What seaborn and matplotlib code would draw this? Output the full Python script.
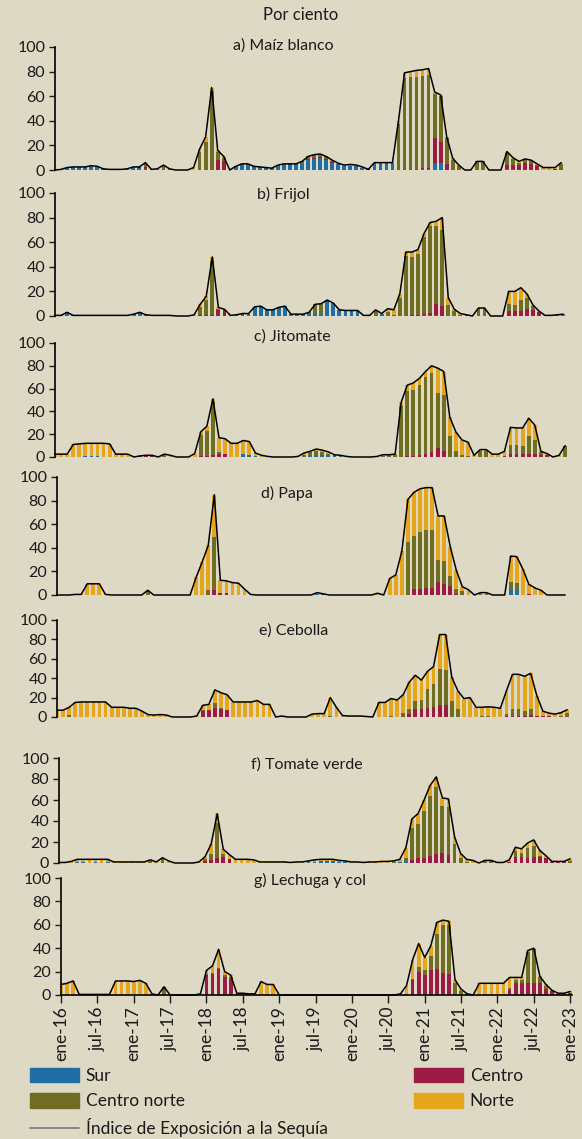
import numpy as np
import seaborn as sns
import matplotlib.pyplot as plt
from matplotlib.patches import Patch
from matplotlib.lines import Line2D

# Monthly values, ene-16 ... ene-23 (85 months), one row per year

# a) Maiz blanco
maiz_sur = [0, 0.5, 2, 2.5, 2.5, 2.5, 3.5, 3, 1, 0.5, 0.5, 0.5,
            1, 2.5, 2, 1, 0.5, 0, 0, 1, 0, 0, 0, 0,
            0, 0, 0, 0, 0, 0, 3, 5, 5, 3, 2.5, 2,
            1.5, 4, 5, 5, 4.5, 5, 8, 9, 9.5, 8, 6, 4.5,
            3.5, 3, 3, 2, 0.5, 6, 6, 6, 6, 0, 1, 1,
            1, 1, 1, 6, 6, 0, 0, 0, 0, 0, 0, 0,
            0, 0, 0, 1, 1, 0, 0, 0, 0, 0, 0, 0,
            1]
maiz_centro = [0, 0, 0, 0, 0, 0, 0, 0, 0, 0, 0, 0,
               0, 0, 0.5, 1.5, 0, 0, 0, 0, 0, 0, 0, 0,
               0, 0, 0, 8, 7, 0, 0, 0, 0, 0, 0, 0,
               0, 0, 0, 0, 0, 0, 1, 1, 1, 1, 0.5, 0,
               0, 0, 0, 0, 0, 0, 0, 0, 0, 0, 0, 0,
               0, 0.5, 1, 20, 17, 5, 0, 0, 0, 0, 0, 0,
               0, 0, 0, 3, 3, 4, 6, 5, 3, 0, 0, 1,
               0]
maiz_cnorte = [0, 0, 0, 0, 0, 0, 0, 0, 0, 0, 0, 0,
               0, 0, 0, 3, 0, 1, 4, 0, 0, 0, 0, 0,
               15, 23, 64, 7, 3, 0, 0, 0, 0, 0, 0, 0,
               0, 0, 0, 0, 0.5, 2, 2, 2, 2, 1.5, 1, 0,
               0, 0, 0, 0, 0, 0, 0, 0, 0, 37, 74, 75,
               75, 75, 75, 36, 37, 21, 8, 3.5, 0, 0, 7, 7,
               0, 0, 0, 10, 5, 2, 2, 2, 1, 0, 0, 0,
               4]
maiz_norte = [0, 0, 0, 0, 0, 0, 0, 0, 0, 0, 0, 0,
              0, 0, 0, 0.5, 0, 0, 0, 0, 0, 0, 0, 2,
              2, 4, 3, 1, 1, 0, 0, 0, 0, 0, 0, 0,
              0, 0, 0, 0, 0, 0, 0, 0.5, 0.5, 0.5, 0.5, 1,
              0.5, 1.5, 1, 0.5, 0, 0, 0, 0, 0, 3, 4, 4,
              5, 5, 5.5, 1.5, 1, 1, 1.5, 0.5, 0, 0, 0, 0,
              0, 0, 0, 1, 1, 1, 1, 1, 1, 2, 2, 1,
              1]

# b) Frijol
frijol_sur = [0.5, 0.5, 3, 0.5, 0.5, 0.5, 0.5, 0.5, 0.5, 0.5, 0.5, 0.5,
              0.5, 1.5, 3, 1, 0.5, 0.5, 0.5, 0.5, 0, 0, 0, 0,
              0, 0, 0, 0, 0, 0.5, 1, 2, 2, 7.5, 8, 5,
              5, 7, 8, 1.5, 1.5, 1.5, 1.5, 1.5, 2, 11, 10, 5,
              4.5, 4.5, 4.5, 0.5, 0.5, 1, 2, 0, 1, 0, 0.5, 0,
              0, 0.5, 0.5, 1, 0, 0, 0, 0, 0, 0, 0, 0,
              0, 0, 0, 0, 0, 0, 0, 0, 0, 0, 0, 0.5,
              1.5]
frijol_centro = [0, 0, 0, 0, 0, 0, 0, 0, 0, 0, 0, 0,
                 0, 0, 0, 0, 0, 0, 0, 0, 0, 0, 0, 0,
                 0.5, 1, 1, 5, 5, 0, 0, 0, 0, 0, 0, 0,
                 0, 0, 0, 0, 0, 0, 0, 0, 0, 1, 0, 0,
                 0, 0, 0, 0, 0, 0, 0, 0, 0, 0, 0.5, 0.5,
                 0.5, 1, 2, 9, 8, 0, 0, 0, 0, 0, 0, 0,
                 0, 0, 0, 4, 4, 4, 6, 5, 3, 0, 0, 0,
                 0]
frijol_cnorte = [0, 0, 0, 0, 0, 0, 0, 0, 0, 0, 0, 0,
                 0, 0, 0, 0, 0, 0, 0, 0, 0, 0, 0, 0,
                 7, 12, 44, 1, 0, 0, 0, 0, 0, 0, 0, 0,
                 0, 0, 0, 0, 0, 0, 1.5, 8, 8, 1, 0.5, 0,
                 0, 0, 0, 0, 0, 4, 0, 3, 0, 15, 48, 47.5,
                 49.5, 62.5, 70.5, 63.5, 62, 9, 4, 1, 0.5, 0, 6.5, 6.5,
                 0, 0, 0, 6, 5, 9, 9, 3, 0, 0, 0, 0,
                 0]
frijol_norte = [0, 0, 0, 0, 0, 0, 0, 0, 0, 0, 0, 0,
                0, 0, 0, 0, 0, 0, 0, 0, 0, 0, 0, 1,
                2, 3, 3, 1, 0.5, 0, 0, 0, 0, 0, 0, 0,
                0, 0, 0, 0, 0, 0, 0, 0, 0, 0, 0, 0,
                0, 0, 0, 0, 0, 0, 0, 3, 4, 3, 3, 4,
                4, 3, 3, 3.5, 10, 6, 1.5, 1, 0.5, 0, 0, 0,
                0, 0, 0, 10, 11, 10, 3, 1, 1, 0.5, 0.5, 0.5,
                0]

# c) Jitomate
jitomate_sur = [0, 0, 0, 0, 0, 0.5, 0.5, 0.5, 0, 0, 0, 0,
                0, 0, 0, 0, 0, 0, 0, 0, 0, 0, 0, 0,
                0, 0, 0, 0, 0, 0, 0, 2.5, 2, 1, 0, 0,
                0, 0, 0, 0, 0, 0, 1, 2, 1.5, 2, 1.5, 1,
                0.5, 0, 0, 0, 0, 0, 0, 0, 0, 0, 0, 0,
                0, 0, 0, 0, 0, 0, 0, 0, 0, 0, 0, 0,
                0, 0, 0, 0, 0, 0, 0, 0, 0, 0, 0, 0,
                0]
jitomate_centro = [0, 0, 0, 0, 0, 0, 0, 0, 0, 0, 0, 0,
                   0, 0, 0.5, 0.5, 0.5, 0, 0, 0, 0, 0, 0, 0,
                   1, 1, 2, 3, 3, 0, 0, 0, 0, 0, 0, 0,
                   0, 0, 0, 0, 0, 0, 0, 0, 0, 0, 0, 0,
                   0, 0, 0, 0, 0, 0, 0, 0, 0, 0, 0.5, 1,
                   1.5, 3, 4, 8, 5, 0, 0, 0, 0, 0, 0, 0,
                   0, 0, 1, 2.5, 2.5, 2.5, 2.5, 2.5, 2, 1.5, 0, 0,
                   0]
jitomate_cnorte = [0, 0, 0, 0, 0, 0, 0, 0, 0, 0, 0, 0,
                   0, 0, 0, 0, 0, 0, 1.5, 0, 0, 0, 0, 0,
                   18, 22, 46, 1, 0, 0, 0, 0, 0, 0, 0, 0,
                   0, 0, 0, 0, 0, 2, 3, 3, 2.5, 1, 0, 0,
                   0, 0, 0, 0, 0, 0, 1, 1.5, 2, 45, 57, 58,
                   62, 67, 70, 48, 49, 18, 5, 2, 1, 0, 5, 5,
                   0, 0, 0, 8, 8, 7, 16, 12, 2, 0, 0, 0,
                   10]
jitomate_norte = [2.5, 2.5, 2.5, 11, 11.5, 11.5, 11.5, 11.5, 12, 11.5, 2.5, 2.5,
                  2.5, 0, 0.5, 1, 1, 0, 1, 1.5, 0, 0, 0, 3,
                  3, 4, 3, 13, 13, 12, 12, 12, 11.5, 2.5, 1.5, 0.5,
                  0, 0, 0, 0, 0.5, 1.5, 1, 2, 2, 1.5, 0.5, 0.5,
                  0, 0, 0, 0, 0, 0.5, 1, 0.5, 0.5, 3, 5.5, 6,
                  5.5, 5, 6, 22, 21, 17, 17, 13, 12, 1.5, 1.5, 1.5,
                  2.5, 2.5, 4, 15.5, 15, 16, 15.5, 13.5, 1, 1.5, 0, 1.5,
                  0]

# d) Papa
papa_sur = [0, 0, 0, 0, 0, 0, 0, 0, 0, 0, 0, 0,
            0, 0, 0, 0, 0, 0, 0, 0, 0, 0, 0, 0,
            0, 0, 0, 0, 0, 0, 0, 0, 0, 0, 0, 0,
            0, 0, 0, 0, 0, 0, 0, 1, 0.5, 0, 0, 0,
            0, 0, 0, 0, 0, 0, 0, 0, 0, 0, 0, 0,
            0, 0, 0, 0, 0, 0, 0, 0, 0, 0, 0, 0,
            0, 0, 0, 5, 4, 0, 0, 0, 0, 0, 0, 0,
            0]
papa_centro = [0, 0, 0, 0, 0, 0, 0, 0, 0, 0, 0, 0,
               0, 0, 0, 0, 0, 0, 0, 0, 0, 0, 0, 0,
               0, 0, 4, 1.5, 1.5, 0, 0, 0, 0, 0, 0, 0,
               0, 0, 0, 0, 0, 0, 0, 0, 0, 0, 0, 0,
               0, 0, 0, 0, 0, 0, 0, 0, 0, 0, 0, 5,
               5, 6, 6, 11, 9, 8, 1, 0, 0, 0, 0, 0,
               0, 0, 0, 0, 0, 0, 1, 0, 0, 0, 0, 0,
               0]
papa_cnorte = [0, 0, 0, 0, 0, 0, 0, 0, 0, 0, 0, 0,
               0, 0, 0, 3, 0, 0, 0, 0, 0, 0, 0, 0,
               0, 4, 45, 0, 0, 0, 0, 0, 0, 0, 0, 0,
               0, 0, 0, 0, 0, 0, 0, 0, 0, 0, 0, 0,
               0, 0, 0, 0, 0, 0, 0, 0, 0, 0, 45, 45,
               48, 49, 49, 19, 20, 8, 4, 3, 0, 0, 1, 1,
               0, 0, 0, 6, 6, 0, 0, 0, 0, 0, 0, 0,
               0]
papa_norte = [0, 0, 0, 0.5, 0.5, 9.5, 9.5, 9.5, 0.5, 0, 0, 0,
              0, 0, 0, 1, 0, 0, 0, 0, 0, 0, 0, 15,
              28, 38, 36, 11, 10.5, 10.5, 10, 5, 0.5, 0, 0, 0,
              0, 0, 0, 0, 0, 0, 0, 1, 0.5, 0, 0, 0,
              0, 0, 0, 0, 0, 1.5, 0, 14, 17, 37, 36, 37,
              37, 36, 36, 37, 38, 25, 16, 4, 4.5, 0, 1, 1,
              0, 0, 0, 22, 22.5, 22, 8, 6, 4, 0, 0, 0,
              0]

# e) Cebolla
cebolla_sur = [0, 0, 0, 0, 0, 0, 0, 0, 0, 0, 0, 0,
               0, 0, 0, 0, 0, 0, 0, 0, 0, 0, 0, 0,
               0, 0, 0, 0, 0, 0, 0, 0, 0, 0, 0, 0,
               0, 0, 0, 0, 0, 0, 0, 0, 0, 0, 0, 0,
               0, 0, 0, 0, 0, 0, 0, 0, 0, 0, 0, 0,
               0, 0, 0, 0, 0, 0, 0, 0, 0, 0, 0, 0,
               0, 0, 0, 0, 0, 0, 0, 0, 0, 0, 0, 0,
               0]
cebolla_centro = [0, 0, 0, 0, 0, 0, 0, 0, 0, 0, 0, 0,
                  0, 0, 0, 0, 0, 0, 0, 0, 0, 0, 0, 0,
                  6, 7, 9, 8, 7, 0, 0, 0, 0, 0, 0, 0,
                  0, 0, 0, 0, 0, 0, 0, 0, 0, 0, 0, 0,
                  0, 0, 0, 0, 0, 0, 0, 0, 0, 0, 3, 8,
                  8, 9, 10, 12, 12, 0, 0, 0, 0, 0, 0, 0,
                  0, 0, 1, 1, 1, 1, 2, 1, 1, 1, 0, 0,
                  0]
cebolla_cnorte = [0, 0, 2, 0, 0, 0, 0, 0, 0, 0, 0, 0,
                  0, 0, 0, 0, 0, 0, 0, 0, 0, 0, 0, 0,
                  1, 0, 5, 1, 0, 0, 0, 0, 0, 0, 0, 0,
                  0, 0, 0, 0, 0, 0, 0, 0, 0.5, 1, 0, 0,
                  0, 0, 0, 0, 0, 0, 0, 1, 0, 4, 5, 8,
                  10, 20, 24, 37, 36, 16, 8, 0, 0, 0, 1, 1,
                  0, 0, 2, 7, 7, 5, 6, 0, 0, 0, 0, 1,
                  4]
cebolla_norte = [7, 7, 8, 15, 15.5, 15.5, 15.5, 15.5, 15.5, 10, 10, 10,
                 9, 9, 6, 2.5, 2, 2.5, 2, 0, 0, 0, 0, 1,
                 5, 6, 14, 16, 16, 15.5, 15.5, 15.5, 15.5, 17, 13, 13,
                 0, 1, 0, 0, 0, 0, 3, 3.5, 3, 19, 10, 1.5,
                 1, 1, 1, 0.5, 0, 15, 15, 18, 17.5, 19, 28, 27,
                 20, 18, 18, 36, 37, 25, 19, 19, 20, 10, 9, 9.5,
                 10, 9, 24, 36, 36, 36, 37, 21, 5, 3, 3, 3.5,
                 3.5]

# f) Tomate verde
tomate_sur = [0, 0, 0, 0.5, 0.5, 0, 0.5, 0, 0.5, 0, 0, 0,
              0, 0, 0, 0, 0, 0, 0, 0, 0, 0, 0, 0,
              0, 0, 0, 0, 0, 0, 0, 0, 0, 0, 0, 0,
              0, 0, 0, 0, 0, 0.5, 1, 1.5, 1.5, 1.5, 1, 1,
              0, 0, 0, 0, 0, 0, 0, 0, 0.5, 0.5, 0, 0,
              0, 0, 0, 0, 0, 0, 0, 0, 0, 0, 0, 0,
              0, 0, 0, 0, 0, 0, 0, 0, 0, 0, 0, 0,
              0]
tomate_centro = [0, 0, 0, 0, 0, 0, 0, 0, 0, 0, 0, 0,
                 0, 0, 0, 0, 0, 0, 0, 0, 0, 0, 0, 0,
                 2, 3, 5, 6, 4, 0, 0, 0, 0, 0, 0, 0,
                 0, 0, 0, 0, 0, 0, 0, 0, 0, 0, 0, 0,
                 0, 0, 0, 0, 0, 0, 0, 0, 0, 0, 3, 5,
                 5, 7, 9, 10, 8, 0, 0, 0, 0, 0, 0, 0,
                 0, 0, 1, 6, 6, 5, 6, 6, 5, 1, 1, 1,
                 0]
tomate_cnorte = [0, 0, 0, 0, 0, 0, 0, 0, 0, 0, 0, 0,
                 0, 0, 0, 2, 0, 4, 0, 0, 0, 0, 0, 0,
                 2, 6, 33, 3, 0, 0, 0, 0, 0, 0, 0, 0,
                 0, 0, 0, 0, 0, 0, 0, 0, 0, 0, 0, 0,
                 0, 0, 0, 0, 0, 0, 0, 0.5, 0.5, 4, 30, 32,
                 45, 57, 63, 44, 45, 18, 5, 1, 0, 0, 1.5, 1.5,
                 0, 0, 0, 5, 4, 9, 10, 1, 0, 0, 0, 0,
                 2]
tomate_norte = [0.5, 0.5, 1.5, 3, 3, 3.5, 3, 3.5, 3, 1, 1, 1,
                1, 1, 1, 1, 1, 1, 2, 0, 0, 0, 0, 1,
                2, 9, 9, 4, 4, 3.5, 3.5, 3.5, 3, 1, 1, 1,
                1, 1, 0.5, 1, 1, 1.5, 2, 2, 2, 2, 1.5, 1,
                1, 1, 0.5, 1, 1, 1.5, 1.5, 1.5, 2.5, 10, 9, 10,
                10, 10, 10, 8, 8, 7, 4, 2.5, 2.5, 0, 1, 1,
                0.5, 0.5, 2, 4, 3.5, 5, 6, 5, 2, 0.5, 0.5, 0.5,
                2]

# g) Lechuga y col
lechuga_sur = [0, 0, 0, 0, 0, 0, 0, 0, 0, 0, 0, 0,
               0, 0, 0, 0, 0, 0, 0, 0, 0, 0, 0, 0,
               0, 0, 0, 0, 0, 0, 0, 0, 0, 0, 0, 0,
               0, 0, 0, 0, 0, 0, 0, 0, 0, 0, 0, 0,
               0, 0, 0, 0, 0, 0, 0, 0, 0, 0, 0, 0,
               0, 0, 0, 0, 0, 0, 0, 0, 0, 0, 0, 0,
               0, 0, 0, 0, 0, 0, 0, 0, 0, 0, 0, 0,
               0]
lechuga_centro = [0, 0, 0, 0, 0, 0, 0, 0, 0, 0, 0, 0,
                  0, 0, 0, 0, 0, 0, 0, 0, 0, 0, 0, 0,
                  17, 18, 22, 15, 14, 0, 0, 0, 0, 0, 0, 0,
                  0, 0, 0, 0, 0, 0, 0, 0, 0, 0, 0, 0,
                  0, 0, 0, 0, 0, 0, 0, 0, 0, 1, 13, 20,
                  17, 21, 22, 19, 18, 0, 0, 0, 0, 0, 0, 0,
                  0, 0, 4, 10, 10, 10, 10, 10, 5, 3, 1, 1,
                  2]
lechuga_cnorte = [0, 0, 0, 0, 0, 0, 0, 0, 0, 0, 0, 0,
                  0, 0, 0, 0, 0, 7, 0, 0, 0, 0, 0, 0,
                  1, 1, 1, 2, 1, 0, 0, 0, 0, 0, 0, 0,
                  0, 0, 0, 0, 0, 0, 0, 0, 0, 0, 0, 0,
                  0, 0, 0, 0, 0, 0, 0, 0, 0, 0, 1, 4,
                  4, 12, 30, 41, 42, 10, 3, 0.5, 0, 0, 0, 0,
                  0, 0, 2, 3, 3, 27, 29, 5, 3, 0, 0, 0,
                  0]
lechuga_norte = [9, 10, 12, 0.5, 0.5, 0.5, 0.5, 0.5, 0.5, 12, 12, 12,
                 11.5, 12.5, 10, 1, 0, 0, 0, 0, 0, 0, 0, 1,
                 3, 6, 16, 3, 2, 1.5, 1.5, 1, 1, 11.5, 9, 9,
                 0, 0, 0, 0, 0, 0, 0, 0, 0, 0, 0, 0,
                 0, 0, 0, 0, 0, 0, 0, 0, 1, 7, 16, 20,
                 11, 9, 10, 4, 3, 3, 2, 0.5, 0, 10, 10, 10,
                 10, 10, 9, 2, 2, 1, 1, 1, 1, 1, 0.5, 0.5,
                 1]

tick_pos = [0, 6, 12, 18, 24, 30, 36, 42, 48, 54, 60, 66, 72, 78, 84]
tick_labels = ['ene-16', 'jul-16', 'ene-17', 'jul-17', 'ene-18', 'jul-18',
               'ene-19', 'jul-19', 'ene-20', 'jul-20', 'ene-21', 'jul-21',
               'ene-22', 'jul-22', 'ene-23']

series_names = ['Sur', 'Centro', 'Centro norte', 'Norte']
series_colors = ['#1F6FA5', '#9B1B45', '#6F6D22', '#E6A61C']
line_label = 'Índice de Exposición a la Sequía'

panels = [
    ('a) Maíz blanco', [maiz_sur, maiz_centro, maiz_cnorte, maiz_norte]),
    ('b) Frijol', [frijol_sur, frijol_centro, frijol_cnorte, frijol_norte]),
    ('c) Jitomate', [jitomate_sur, jitomate_centro, jitomate_cnorte, jitomate_norte]),
    ('d) Papa', [papa_sur, papa_centro, papa_cnorte, papa_norte]),
    ('e) Cebolla', [cebolla_sur, cebolla_centro, cebolla_cnorte, cebolla_norte]),
    ('f) Tomate verde', [tomate_sur, tomate_centro, tomate_cnorte, tomate_norte]),
    ('g) Lechuga y col', [lechuga_sur, lechuga_centro, lechuga_cnorte, lechuga_norte]),
]
for name, parts in panels:
    for p in parts:
        if len(p) != 85:
            raise ValueError(f'{name}: {len(p)} values')

# panel boxes in pixels: left, right, top (value 100), bottom (value 0)
W, H = 582, 1139
boxes = [(55, 563, 47, 170), (55, 565, 193, 316), (55, 567, 343, 457),
         (57, 567, 477, 595), (57, 569, 620, 717), (59, 572, 758, 863),
         (61, 572, 878, 995)]
title_xy = [(283, 46), (283, 194), (292, 337), (287, 493),
            (294, 631), (307, 765), (310, 880)]

bg = '#DDD9C4'
sns.set_theme(style='white')
plt.rcParams['font.family'] = ['Lato', 'DejaVu Sans']
plt.rcParams['text.color'] = '#1a1a1a'

fig = plt.figure(figsize=(W / 100, H / 100), dpi=100, facecolor=bg)
x = np.arange(85)

for i, ((title, parts), (l, r, t, b), (tx, ty)) in enumerate(zip(panels, boxes, title_xy)):
    ax = fig.add_axes([l / W, 1 - b / H, (r - l) / W, (b - t) / H])
    ax.set_facecolor(bg)
    tops = np.cumsum(np.array(parts, dtype=float), axis=0)
    # stacked look: draw cumulative totals from the top series down
    for top, color in zip(tops[::-1], series_colors[::-1]):
        sns.barplot(x=x, y=top, color=color, saturation=1, width=0.62,
                    native_scale=True, errorbar=None, linewidth=0, ax=ax)
    sns.lineplot(x=x, y=tops[-1], color='black', linewidth=1.1, ax=ax)
    ax.lines[-1].set_clip_on(False)

    ax.set_xlim(0, 84.3)
    ax.set_ylim(0, 100)
    ax.set_yticks([0, 20, 40, 60, 80, 100])
    ax.tick_params(axis='y', direction='out', length=4, width=1, pad=3,
                   labelsize=11.5, colors='#1a1a1a', left=True)
    ax.set_xlabel('')
    ax.set_ylabel('')
    for s in ['top', 'right']:
        ax.spines[s].set_visible(False)
    ax.spines['left'].set_color('black')
    ax.spines['left'].set_linewidth(1.2)
    if i == len(panels) - 1:
        ax.spines['bottom'].set_color('black')
        ax.spines['bottom'].set_linewidth(1.2)
        ax.set_xticks(tick_pos, tick_labels, rotation=90)
        ax.tick_params(axis='x', direction='out', length=6, width=1, pad=2,
                       labelsize=12.5, colors='#1a1a1a', bottom=True)
    else:
        ax.spines['bottom'].set_visible(False)
        ax.set_xticks([])
    fig.text(tx / W, 1 - ty / H, title, ha='center', va='center', fontsize=11.5)

fig.text(301 / W, 1 - 15 / H, 'Por ciento', ha='center', va='center', fontsize=12)

handles = [Patch(color=series_colors[0], label=series_names[0]),
           Patch(color=series_colors[2], label=series_names[2]),
           Line2D([], [], color='#7f7f7f', lw=1.3, label=line_label),
           Patch(color=series_colors[1], label=series_names[1]),
           Patch(color=series_colors[3], label=series_names[3])]
fig.legend(handles=handles, loc='upper left', bbox_to_anchor=(30 / W, 1 - 1068 / H),
           ncol=2, frameon=False, fontsize=12.5, handlelength=2.8, handleheight=0.9,
           handletextpad=0.4, columnspacing=5.0, labelspacing=0.52,
           borderpad=0, borderaxespad=0)

fig.savefig('out.png', dpi=100, facecolor=bg)
